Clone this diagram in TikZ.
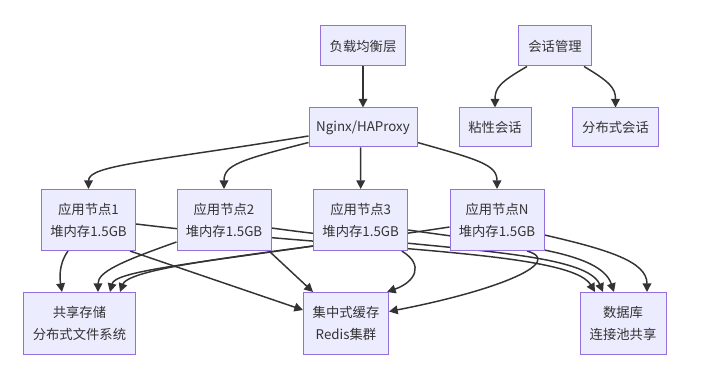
\documentclass[tikz,border=0pt]{standalone}
\usepackage{fontspec}
\setmainfont{Noto Sans CJK SC}
\usetikzlibrary{arrows.meta,calc}
\pgfdeclarelayer{bg}
\pgfsetlayers{bg,main}
\definecolor{nodefill}{HTML}{ECECFF}
\definecolor{nodeline}{HTML}{9370DB}
\definecolor{edgecol}{HTML}{333333}
\begin{document}
\begin{tikzpicture}[x=0.75pt,y=-0.75pt,
  box/.style={draw=nodeline,fill=nodefill,line width=0.75pt,inner sep=0pt,align=center,
    font=\fontsize{10}{16.5}\selectfont,text=edgecol},
  appbox/.style={box,minimum width=70.5pt,minimum height=45.75pt},
  lowbox/.style={box,minimum height=46.5pt},
  topbox/.style={box,minimum height=30pt},
  midbox/.style={box,minimum height=29.25pt},
  edge/.style={draw=edgecol,line width=1.1pt,-{Triangle[length=6.5pt,width=6.5pt]}}]
\path[use as bounding box] (0,0) rectangle (704,384);
% nodes
\node[topbox,minimum width=63.75pt] (lb) at (363,46) {负载均衡层};
\node[topbox,minimum width=54.75pt] (sess) at (555,46) {会话管理};
\node[midbox,minimum width=81pt] (nginx) at (363,127.5) {Nginx/HAProxy};
\node[midbox,minimum width=54pt] (sticky) at (495,127.5) {粘性会话};
\node[midbox,minimum width=64.5pt] (dist) at (615.5,127.5) {分布式会话};
\node[appbox] (app1) at (88.5,220) {应用节点1\\堆内存1.5GB};
\node[appbox] (app2) at (224,220) {应用节点2\\堆内存1.5GB};
\node[appbox] (app3) at (360.7,220) {应用节点3\\堆内存1.5GB};
\node[appbox] (appN) at (497,220) {应用节点N\\堆内存1.5GB};
\node[lowbox,minimum width=84pt] (stor) at (79.5,323.5) {共享存储\\分布式文件系统};
\node[lowbox,minimum width=63.75pt] (cache) at (346,323.5) {集中式缓存\\Redis集群};
\node[lowbox,minimum width=64.5pt] (db) at (623,323.5) {数据库\\连接池共享};
\begin{pgfonlayer}{bg}
\fill[white] (0,0) rectangle (704,384);
% top
\draw[edge] (lb.south) -- (nginx.north);
\draw[edge] ($(sess.south)+(-28,0)$) .. controls (500,82) and (495,88) .. (sticky.north);
\draw[edge] ($(sess.south)+(29,0)$) .. controls (610,82) and (615.5,88) .. (dist.north);
% nginx to apps
\draw[edge] ($(nginx.west)+(0,8.5)$) .. controls (150,162) and (88.5,165) .. (app1.north);
\draw[edge] ($(nginx.west)+(0,15)$) .. controls (240,160) and (224,165) .. (app2.north);
\draw[edge] ($(nginx.south)+(-2.3,0)$) -- (app3.north);
\draw[edge] ($(nginx.east)+(0,15)$) .. controls (480,160) and (497,165) .. (appN.north);
% storage
\draw[edge] ($(app1.south)+(-20.5,0)$) .. controls (58,265) and (60,280) .. ($(stor.north)+(-17.5,0)$);
\draw[edge] ($(app2.west)+(0,22)$) .. controls (120,262) and (98,272) .. ($(stor.north)+(18.5,0)$);
\draw[edge] ($(app3.west)+(0,26)$) .. controls (180,265) and (115,272) .. ($(stor.north)+(30.5,0)$);
\draw[edge] ($(appN.west)+(0,7)$) .. controls (300,250) and (130,265) .. ($(stor.north)+(40.5,0)$);
% cache
\draw[edge] ($(app1.south)+(41.5,0)$) -- ($(cache.west)+(0,-13.5)$);
\draw[edge] ($(app2.south)+(45,0)$) -- ($(cache.north)+(-33,0)$);
\draw[edge] ($(app3.south)+(41,0)$) .. controls (425,265) and (415,282) .. ($(cache.north east)+(-2,0)$);
\draw[edge] ($(appN.south)+(30,0)$) .. controls (565,262) and (500,290) .. ($(cache.east)+(0,-12)$);
% database
\draw[edge] ($(app1.east)+(0,4)$) .. controls (350,250) and (570,250) .. ($(db.north)+(-28,0)$);
\draw[edge] ($(app2.east)+(0,8)$) .. controls (430,250) and (585,250) .. ($(db.north)+(-20,0)$);
\draw[edge] ($(app3.east)+(0,10)$) .. controls (510,245) and (600,250) .. ($(db.north)+(-9,0)$);
\draw[edge] ($(appN.east)+(0,15)$) .. controls (610,250) and (647,262) .. ($(db.north)+(24,0)$);
\end{pgfonlayer}
\end{tikzpicture}
\end{document}
